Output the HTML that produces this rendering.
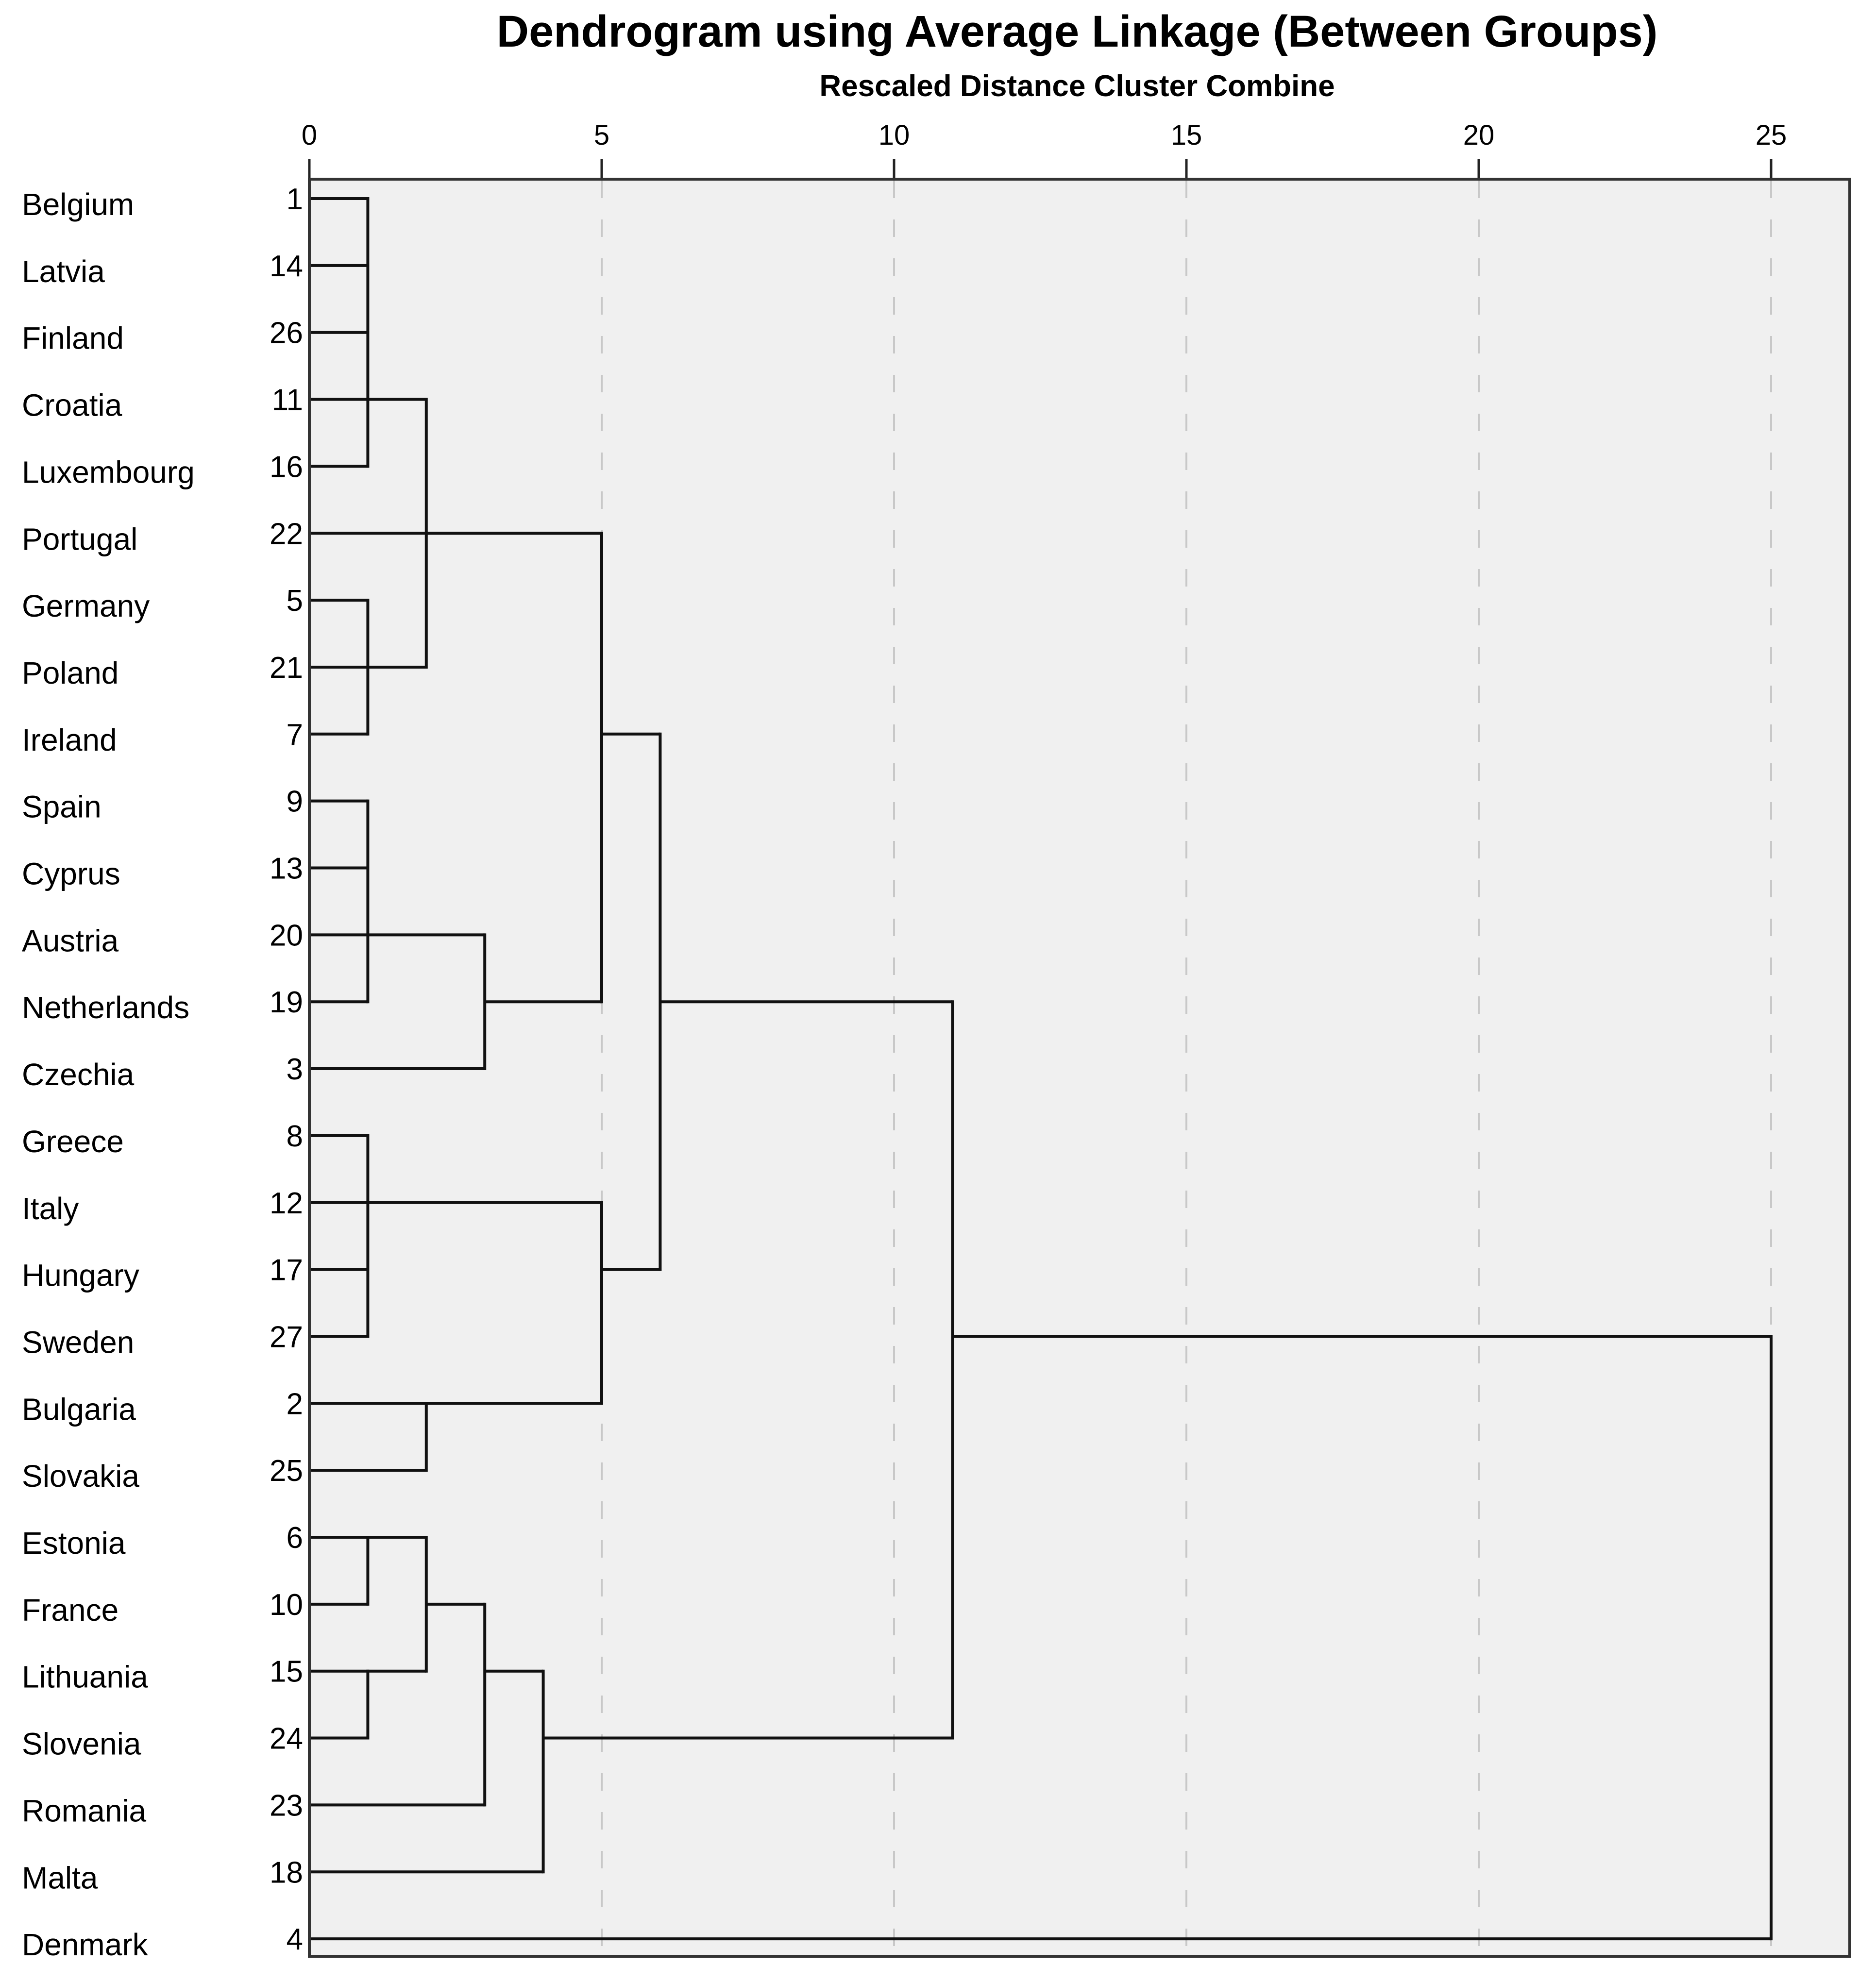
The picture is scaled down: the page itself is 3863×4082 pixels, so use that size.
<!DOCTYPE html>
<html><head><meta charset="utf-8"><style>
html,body{margin:0;padding:0;background:#fff;}
svg{display:block;}
text{font-family:"Liberation Sans",Arial,sans-serif;fill:#000;}
</style></head><body>
<svg id="chart" width="3863" height="4082" viewBox="0 0 3863 4082" xmlns="http://www.w3.org/2000/svg">
<text x="2218" y="96" font-size="92" font-weight="bold" text-anchor="middle">Dendrogram using Average Linkage (Between Groups)</text>
<text x="2218" y="198" font-size="62" font-weight="bold" text-anchor="middle">Rescaled Distance Cluster Combine</text>
<rect x="637" y="369" width="3172" height="3660" fill="#f0f0f0"/>
<g id="grid"></g>
<g id="axis"></g>
<g id="labels"></g>
<g id="tree"></g>
<rect x="637" y="369" width="3172" height="3660" fill="none" stroke="#333" stroke-width="6"/>
</svg>
<script>
const countries = ["Belgium","Latvia","Finland","Croatia","Luxembourg","Portugal","Germany","Poland","Ireland","Spain","Cyprus","Austria","Netherlands","Czechia","Greece","Italy","Hungary","Sweden","Bulgaria","Slovakia","Estonia","France","Lithuania","Slovenia","Romania","Malta","Denmark"];
const caseNumbers = ["1","14","26","11","16","22","5","21","7","9","13","20","19","3","8","12","17","27","2","25","6","10","15","24","23","18","4"];
const tickValues = [0,5,10,15,20,25];
// merges: children ids (0-26 leaves, 27+ = merge index + 27), height, output row
const mergeChildren = [[0,1,2,3,4],[6,7,8],[27,28],[9,10,11,12],[30,13],[5,29,31],[14,15,16,17],[18,19],[33,34],[32,35],[20,21],[22,23],[37,38],[39,24],[40,25],[36,41],[42,26]];
const mergeHeights = [1,1,2,1,3,5,1,2,5,6,1,1,2,3,4,11,25];
const mergeRows = [3,7,5,11,12,8,15,18,16,12,20,22,21,22,23,17,17];

const NS="http://www.w3.org/2000/svg";
const x = v => 637 + v*120.4;
const y = r => 409 + r*137.85;
function mk(tag, parent, attrs){const e=document.createElementNS(NS,tag);for(const k in attrs)e.setAttribute(k,attrs[k]);parent.appendChild(e);return e;}
const grid=document.getElementById('grid'), axis=document.getElementById('axis'), labels=document.getElementById('labels'), tree=document.getElementById('tree');
tickValues.forEach(v=>{
  if(v>0){const g=mk('line',grid,{x1:x(v),x2:x(v),y1:372,y2:4026,stroke:'#c8c8c8','stroke-width':4,'stroke-dasharray':'36 44'});
  
  }
  const t=mk('line',axis,{x1:x(v),x2:x(v),y1:328,y2:369,stroke:'#222','stroke-width':5});
  
  
  const l=mk('text',axis,{x:x(v),y:298,'font-size':58,'text-anchor':'middle'});
  l.textContent=v;
  
  
});
countries.forEach((c,i)=>{
  const t=mk('text',labels,{x:45,y:y(i)+34,'font-size':64});
  t.textContent=c;
  
  
  const n=mk('text',labels,{x:624,y:y(i)+22,'font-size':62,'text-anchor':'end'});
  n.textContent=caseNumbers[i];
  
  
});
function nodeRow(id){return id<27?id:mergeRows[id-27];}
function nodeH(id){return id<27?0:mergeHeights[id-27];}
mergeChildren.forEach((ch,m)=>{
  const h=mergeHeights[m];
  const rows=ch.map(nodeRow);
  ch.forEach(c=>{
    const ln=mk('line',tree,{x1:x(nodeH(c)),x2:x(h),y1:y(nodeRow(c)),y2:y(nodeRow(c)),stroke:'#111','stroke-width':6});
    
    
  });
  const v=mk('line',tree,{x1:x(h),x2:x(h),y1:y(Math.min(...rows))-3,y2:y(Math.max(...rows))+3,stroke:'#111','stroke-width':6});
  
  
});
</script>
</body></html>
